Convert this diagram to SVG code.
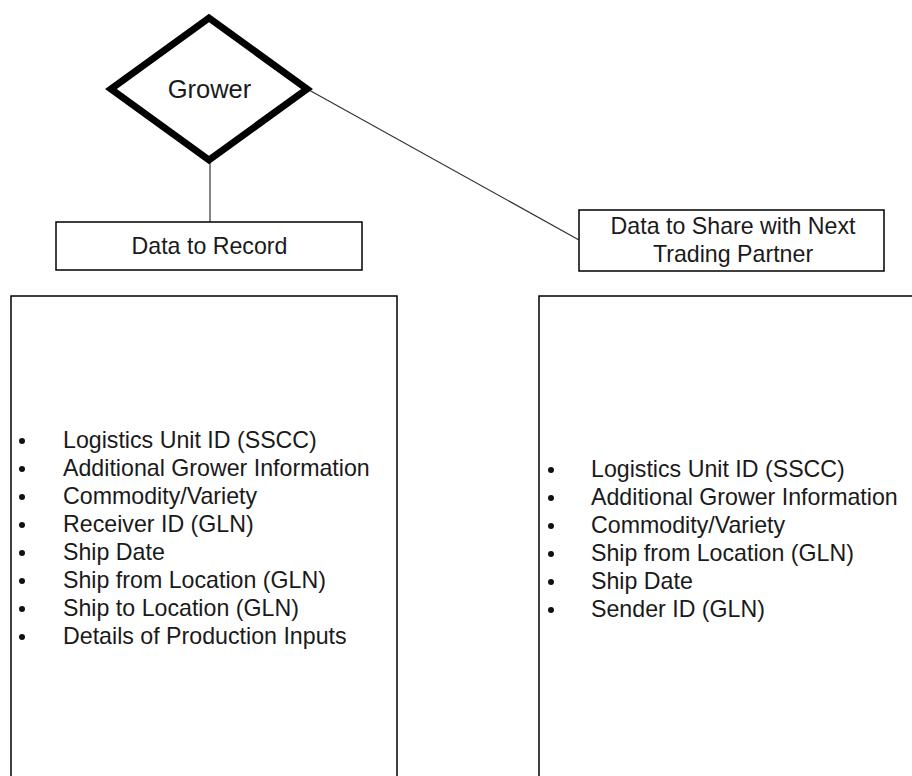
<svg xmlns="http://www.w3.org/2000/svg" width="912" height="776" viewBox="0 0 912 776">
  <style>
    .txt { font-family: "Liberation Sans", Arial, sans-serif; font-size: 23.2px; fill: #1a1a1a; }
    .mid { text-anchor: middle; }
    .box { fill: #ffffff; stroke: #000000; stroke-width: 1.5; }
    .conn { fill: none; stroke: #333333; stroke-width: 1.2; }
    .bullet { fill: #111111; }
  </style>
  <rect width="912" height="776" fill="#ffffff"/>

  <!-- connectors -->
  <g id="connectors">
    <line class="conn" x1="210" y1="160" x2="210" y2="222"/>
    <line class="conn" x1="309" y1="90" x2="579" y2="240"/>
  </g>

  <!-- grower (decision diamond) -->
  <g id="grower">
    <polygon points="209,18 307,89 209,160 111,89" fill="#ffffff" stroke="#000000" stroke-width="7" stroke-linejoin="miter"/>
    <text class="txt mid" x="209.5" y="98" style="font-size:25.5px">Grower</text>
  </g>

  <!-- heading: data to record -->
  <g id="data-to-record">
    <rect class="box" x="56" y="222" width="306" height="48"/>
    <text class="txt mid" x="209.5" y="254">Data to Record</text>
  </g>

  <!-- heading: data to share -->
  <g id="data-to-share">
    <rect class="box" x="579" y="210" width="305" height="61"/>
    <text class="txt mid" x="733" y="234">Data to Share with Next</text>
    <text class="txt mid" x="733" y="262">Trading Partner</text>
  </g>

  <!-- list of recorded data -->
  <g id="record-list">
    <rect class="box" x="11" y="296" width="386" height="490"/>
    <g class="bullet">
      <circle cx="22" cy="441" r="3"/>
      <circle cx="22" cy="469" r="3"/>
      <circle cx="22" cy="497" r="3"/>
      <circle cx="22" cy="525" r="3"/>
      <circle cx="22" cy="553" r="3"/>
      <circle cx="22" cy="581" r="3"/>
      <circle cx="22" cy="609" r="3"/>
      <circle cx="22" cy="637" r="3"/>
    </g>
    <text class="txt" x="63" y="448">Logistics Unit ID (SSCC)</text>
    <text class="txt" x="63" y="476">Additional Grower Information</text>
    <text class="txt" x="63" y="504">Commodity/Variety</text>
    <text class="txt" x="63" y="532">Receiver ID (GLN)</text>
    <text class="txt" x="63" y="560">Ship Date</text>
    <text class="txt" x="63" y="588">Ship from Location (GLN)</text>
    <text class="txt" x="63" y="616">Ship to Location (GLN)</text>
    <text class="txt" x="63" y="644">Details of Production Inputs</text>
  </g>

  <!-- list of shared data -->
  <g id="share-list">
    <rect class="box" x="539" y="296" width="390" height="490"/>
    <g class="bullet">
      <circle cx="551" cy="470" r="3"/>
      <circle cx="551" cy="498" r="3"/>
      <circle cx="551" cy="526" r="3"/>
      <circle cx="551" cy="554" r="3"/>
      <circle cx="551" cy="582" r="3"/>
      <circle cx="551" cy="610" r="3"/>
    </g>
    <text class="txt" x="591" y="477">Logistics Unit ID (SSCC)</text>
    <text class="txt" x="591" y="505">Additional Grower Information</text>
    <text class="txt" x="591" y="533">Commodity/Variety</text>
    <text class="txt" x="591" y="561">Ship from Location (GLN)</text>
    <text class="txt" x="591" y="589">Ship Date</text>
    <text class="txt" x="591" y="617">Sender ID (GLN)</text>
  </g>
</svg>
